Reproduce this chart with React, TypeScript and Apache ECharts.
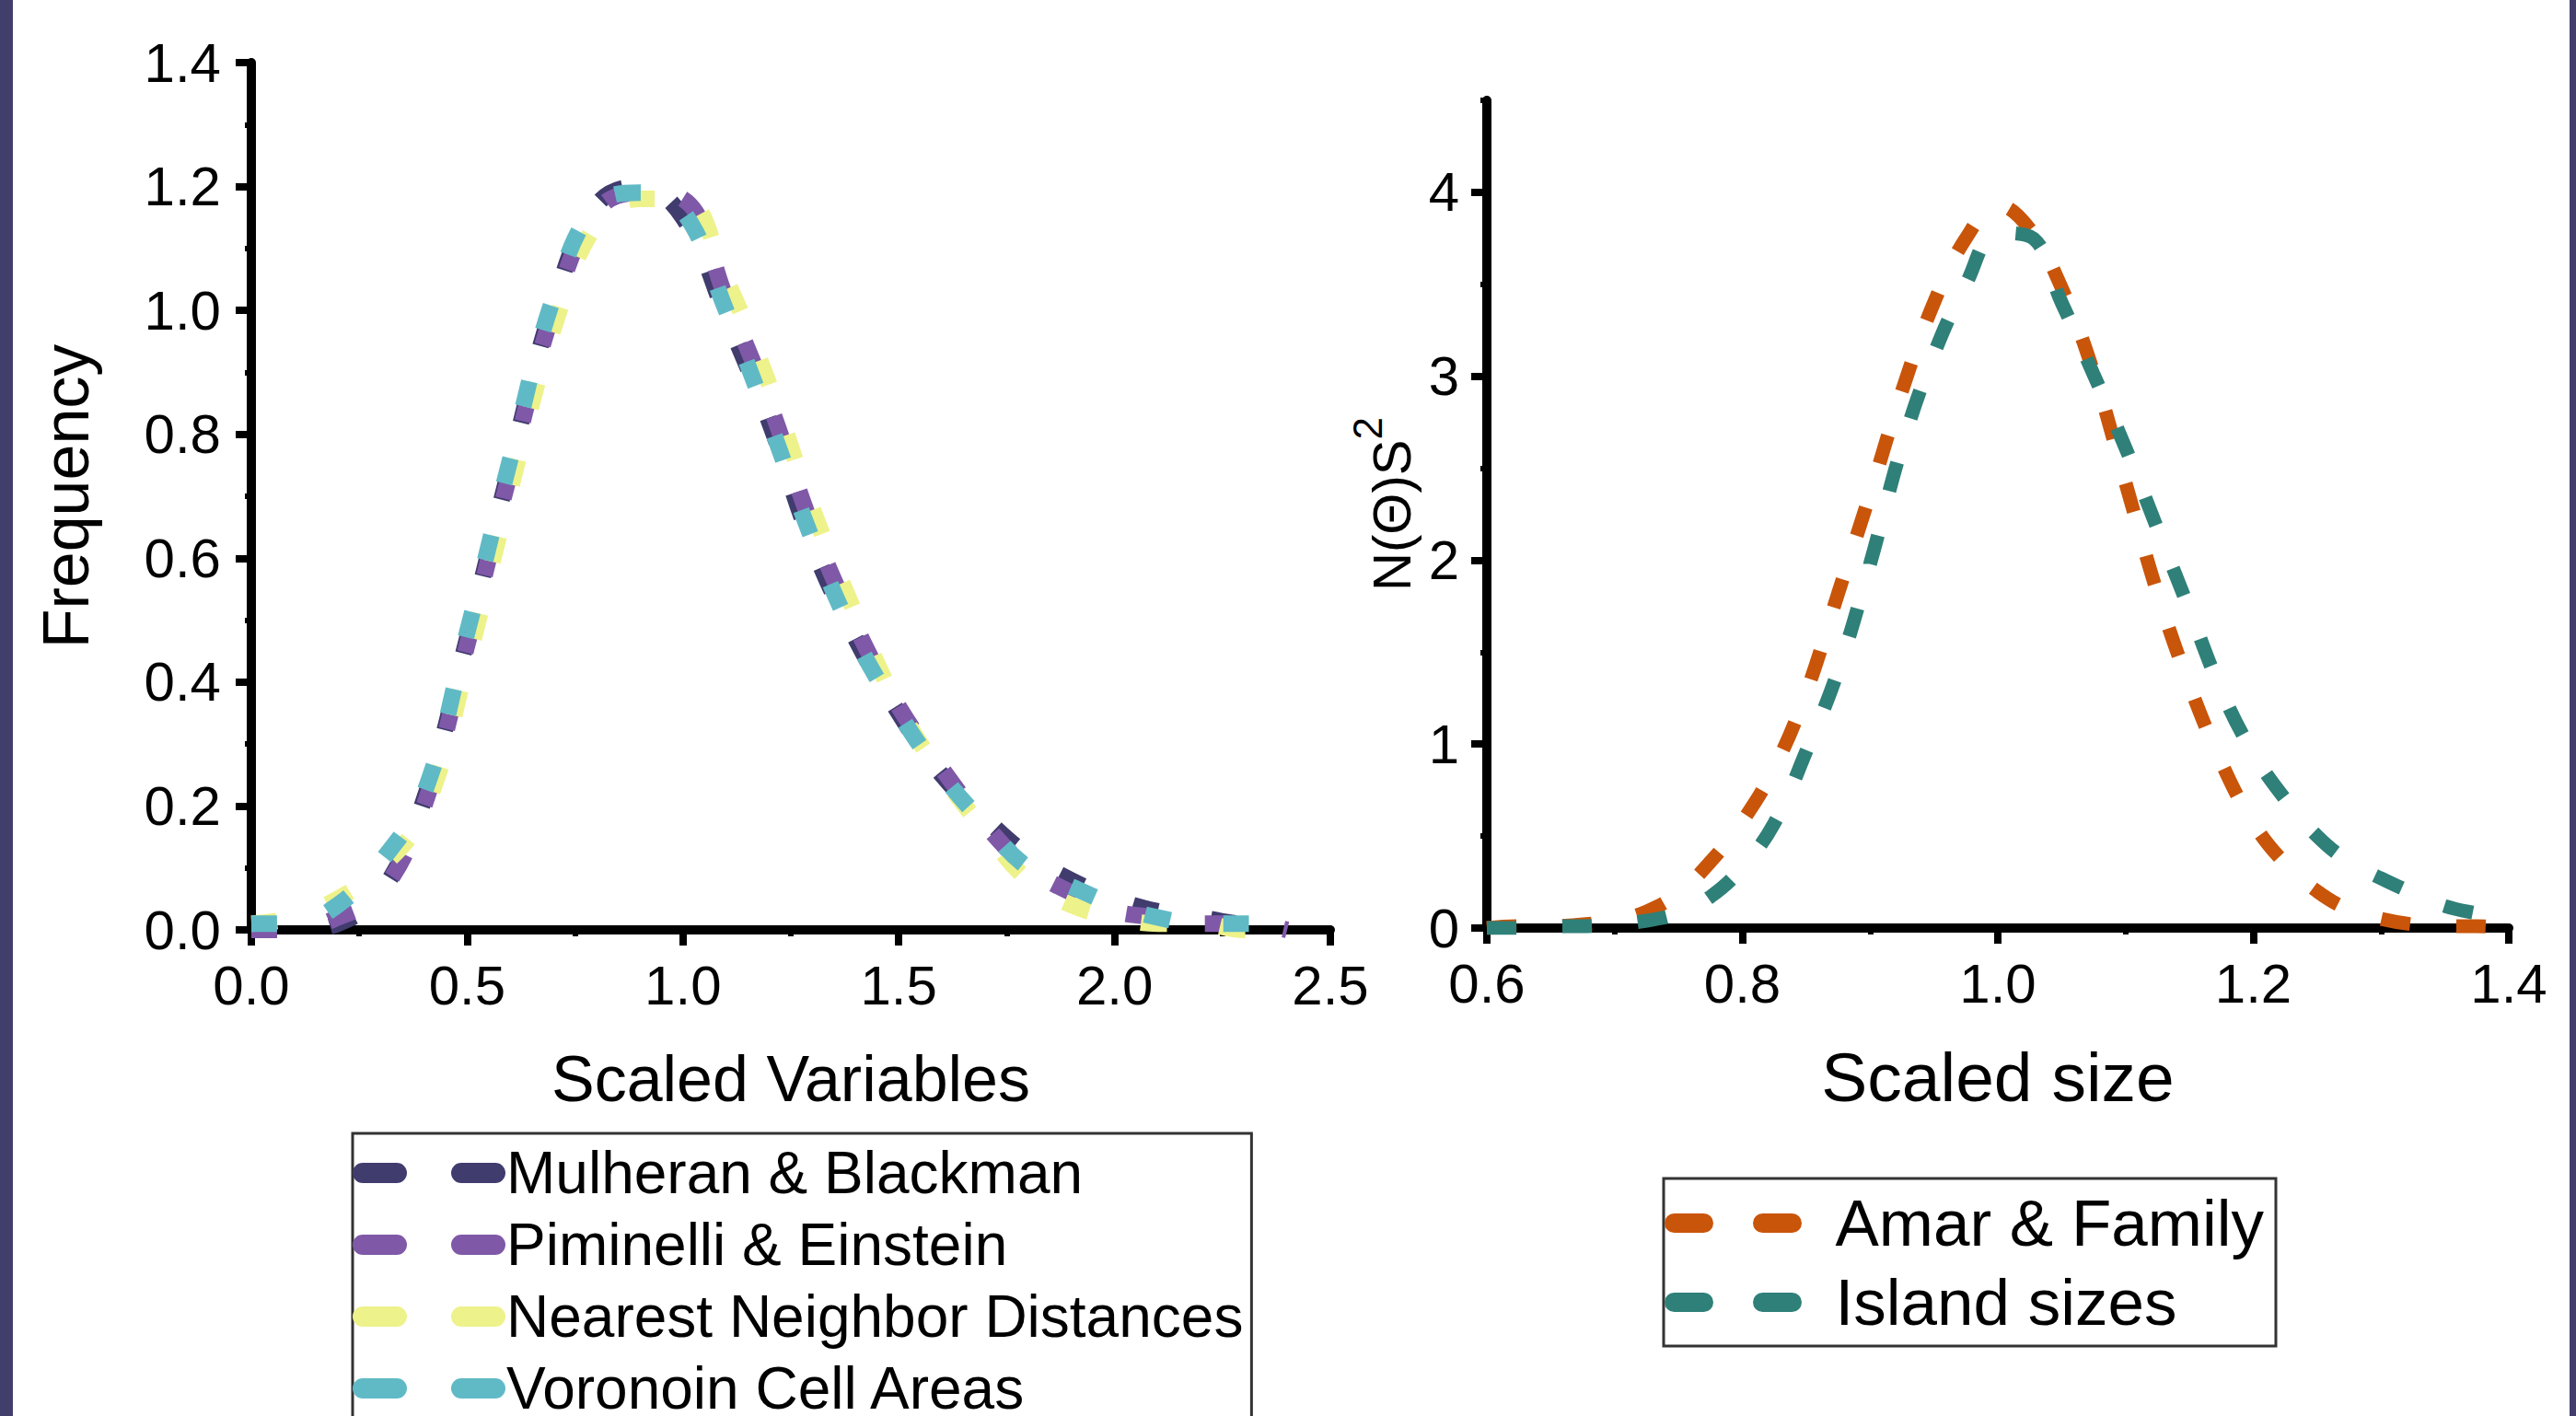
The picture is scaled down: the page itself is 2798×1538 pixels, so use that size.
import React, { useEffect, useRef } from "react";
import * as echarts from "echarts";

// ---------- Data ----------
const leftX = [0, 0.1, 0.2, 0.3, 0.4, 0.5, 0.6, 0.7, 0.8, 0.9, 1.0, 1.1, 1.2, 1.3, 1.4, 1.5, 1.6, 1.7, 1.8, 1.9, 2.0, 2.1, 2.2, 2.3, 2.4];
const mulheranBlackman = [0.00, 0.00, 0.01, 0.06, 0.21, 0.47, 0.75, 1.01, 1.17, 1.20, 1.15, 0.99, 0.82, 0.62, 0.47, 0.35, 0.25, 0.18, 0.12, 0.08, 0.05, 0.03, 0.02, 0.01, 0.01];
const piminelliEinstein = [0.00, 0.00, 0.02, 0.06, 0.20, 0.46, 0.74, 1.00, 1.16, 1.19, 1.18, 1.02, 0.85, 0.65, 0.49, 0.36, 0.26, 0.17, 0.10, 0.06, 0.03, 0.02, 0.01, 0.01, 0.00];
const nearestNeighbor = [0.01, 0.02, 0.05, 0.10, 0.19, 0.43, 0.71, 0.97, 1.14, 1.18, 1.18, 1.05, 0.88, 0.68, 0.51, 0.36, 0.25, 0.16, 0.08, 0.04, 0.02, 0.01, 0.01, 0.00, 0.00];
const voronoinCells = [0.01, 0.01, 0.04, 0.11, 0.22, 0.48, 0.76, 1.02, 1.17, 1.19, 1.16, 1.00, 0.82, 0.63, 0.47, 0.35, 0.25, 0.17, 0.10, 0.07, 0.04, 0.02, 0.01, 0.01, 0.01];

const rightX = [0.6, 0.625, 0.65, 0.675, 0.7, 0.725, 0.75, 0.775, 0.8, 0.825, 0.85, 0.875, 0.9, 0.925, 0.95, 0.975, 1.0, 1.025, 1.05, 1.075, 1.1, 1.125, 1.15, 1.175, 1.2, 1.225, 1.25, 1.275, 1.3, 1.325, 1.35, 1.375, 1.4];
const amarFamily = [0.00, 0.01, 0.01, 0.02, 0.04, 0.09, 0.19, 0.36, 0.58, 0.87, 1.28, 1.82, 2.36, 2.92, 3.40, 3.75, 3.93, 3.80, 3.48, 3.02, 2.42, 1.82, 1.32, 0.90, 0.57, 0.35, 0.20, 0.10, 0.05, 0.02, 0.01, 0.01, 0.00];
const islandSizes = [0.00, 0.00, 0.01, 0.01, 0.02, 0.04, 0.08, 0.17, 0.33, 0.57, 0.96, 1.40, 1.98, 2.62, 3.12, 3.50, 3.78, 3.76, 3.40, 3.01, 2.61, 2.17, 1.73, 1.29, 0.95, 0.70, 0.50, 0.36, 0.27, 0.19, 0.12, 0.08, 0.05];

const leftNames = ["Mulheran & Blackman", "Piminelli & Einstein", "Nearest Neighbor Distances", "Voronoin Cell Areas"];
const rightNames = ["Amar & Family", "Island sizes"];
const rightYTickValues = [0, 1, 2, 3, 4];

// ---------- Styles ----------
const FONT = "Liberation Sans, Arial, sans-serif";
const leftColors = ["#403c6e", "#8058a8", "#eef28a", "#60bac6"];
const rightColors = ["#c9550a", "#2f8078"];
const frameColor = "#423e6c";

const axisLine = { show: true, onZero: false, lineStyle: { color: "#000", width: 10 } };
const axisTick = { show: true, inside: false, length: 17, lineStyle: { color: "#000", width: 8 } };
const minorTick = { show: true, splitNumber: 2, length: 7, lineStyle: { color: "#000", width: 6 } };
const labelStyle = { color: "#000", fontSize: 60, fontFamily: FONT };

function pairs(xs: number[], ys: number[]) {
  return xs.map((x, i) => [x, ys[i]]);
}

export default function App() {
  const ref = useRef<HTMLDivElement>(null);
  useEffect(() => {
    const chart = echarts.init(ref.current!, null, { renderer: "svg" });
    const leftSeriesData = [mulheranBlackman, piminelliEinstein, nearestNeighbor, voronoinCells];
    const rightSeriesData = [amarFamily, islandSizes];
    const option: any = {
      animation: false,
      backgroundColor: "#fff",
      grid: [
        { left: 273, top: 68, width: 1172, height: 942, containLabel: false },
        { left: 1615, top: 109, width: 1110, height: 899, containLabel: false },
      ],
      xAxis: [
        {
          type: "value", gridIndex: 0, min: 0, max: 2.5, interval: 0.5,
          axisLine, axisTick, minorTick, splitLine: { show: false }, minorSplitLine: { show: false },
          axisLabel: { ...labelStyle, margin: 30, formatter: (v: number) => v.toFixed(1) },
          name: "Scaled Variables", nameLocation: "middle", nameGap: 127,
          nameTextStyle: { color: "#000", fontSize: 70, fontFamily: FONT },
        },
        {
          type: "value", gridIndex: 1, min: 0.6, max: 1.4, interval: 0.2,
          axisLine, axisTick, minorTick, splitLine: { show: false }, minorSplitLine: { show: false },
          axisLabel: { ...labelStyle, margin: 30, formatter: (v: number) => v.toFixed(1) },
          name: "Scaled size", nameLocation: "middle", nameGap: 124,
          nameTextStyle: { color: "#000", fontSize: 75, fontFamily: FONT },
        },
      ],
      yAxis: [
        {
          type: "value", gridIndex: 0, min: 0, max: 1.4, interval: 0.2,
          axisLine, axisTick, minorTick, splitLine: { show: false }, minorSplitLine: { show: false },
          axisLabel: { ...labelStyle, margin: 33, formatter: (v: number) => v.toFixed(1) },
          name: "Frequency", nameLocation: "middle", nameRotate: 90, nameGap: 166,
          nameTextStyle: { color: "#000", fontSize: 70, fontFamily: FONT },
        },
        {
          type: "value", gridIndex: 1, position: "left", min: 0, max: 4.5, interval: 1,
          axisLine,
          axisTick: { ...axisTick, customValues: rightYTickValues },
          minorTick: { show: false },
          splitLine: { show: false },
          axisLabel: { ...labelStyle, margin: 30, customValues: rightYTickValues, formatter: (v: number) => String(Math.round(v)) },
          name: "{a|N(Θ)S}{b|2}", nameLocation: "middle", nameRotate: 90, nameGap: 75,
          nameTextStyle: {
            color: "#000", fontFamily: FONT, fontSize: 58,
            rich: {
              a: { color: "#000", fontFamily: FONT, fontSize: 58, verticalAlign: "bottom", padding: [0, 0, 0, 22] },
              b: { color: "#000", fontFamily: FONT, fontSize: 44, verticalAlign: "top", padding: [0, 0, 33, 0] },
            },
          },
        },
        {
          type: "value", gridIndex: 1, position: "left", offset: 0, min: 0, max: 4.5, interval: 0.5,
          axisLine: { show: false },
          axisTick: { show: true, inside: false, length: 7, lineStyle: { color: "#000", width: 6 } },
          axisLabel: { show: false },
          splitLine: { show: false },
        },
      ],
      legend: [
        {
          orient: "vertical", left: 383, top: 1231, height: 330,
          padding: [11, 9, 11, 0], itemGap: 14, itemWidth: 151, itemHeight: 24,
          borderColor: "#333", borderWidth: 3, backgroundColor: "#fff",
          selectedMode: false,
          data: leftNames,
          textStyle: { color: "#000", fontSize: 64, lineHeight: 64, fontFamily: FONT },
          lineStyle: { width: 22, type: [37, 70], cap: "round" },
          itemStyle: { opacity: 0 },
        },
        {
          orient: "vertical", left: 1807, top: 1280,
          padding: [13, 13, 12, 1], itemGap: 15, itemWidth: 170, itemHeight: 22,
          borderColor: "#333", borderWidth: 3, backgroundColor: "#fff",
          selectedMode: false,
          data: rightNames,
          textStyle: { color: "#000", fontSize: 71, lineHeight: 71, fontFamily: FONT },
          lineStyle: { width: 21, type: [32, 64], cap: "round" },
          itemStyle: { opacity: 0 },
        },
      ],
      series: [
        ...leftNames.map((name, i) => ({
          name, type: "line", xAxisIndex: 0, yAxisIndex: 0,
          data: pairs(leftX, leftSeriesData[i]),
          showSymbol: false, symbol: "none", smooth: 0.4,
          color: leftColors[i],
          lineStyle: { color: leftColors[i], width: 18, type: [28, 58] },
          z: 3 + i,
        })),
        ...rightNames.map((name, i) => ({
          name, type: "line", xAxisIndex: 1, yAxisIndex: 1,
          data: pairs(rightX, rightSeriesData[i]),
          showSymbol: false, symbol: "none", smooth: 0.4,
          color: rightColors[i],
          lineStyle: { color: rightColors[i], width: 15, type: [32, 50] },
          z: 3 + i,
        })),
      ],
      graphic: [
        { type: "rect", shape: { x: 0, y: 0, width: 14, height: 1538 }, style: { fill: frameColor }, z: 100 },
        { type: "rect", shape: { x: 2791, y: 0, width: 7, height: 1538 }, style: { fill: frameColor }, z: 100 },
      ],
    };
    chart.setOption(option);
    return () => chart.dispose();
  }, []);
  return (
    <div
      ref={ref}
      style={{ position: "absolute", left: 0, top: 0, width: 2798, height: 1538, background: "#fff" }}
    />
  );
}
